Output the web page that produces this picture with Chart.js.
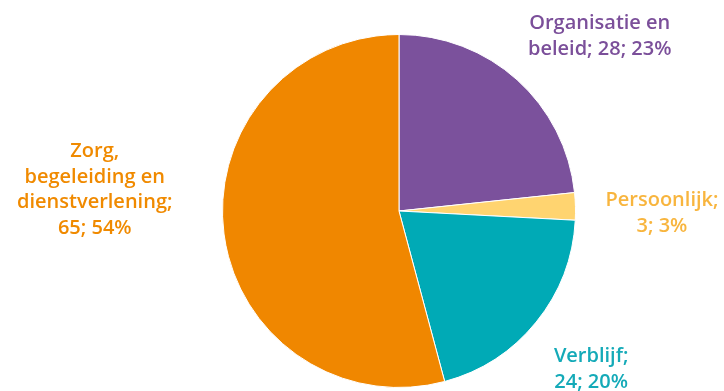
<!DOCTYPE html>
<html>
<head>
<meta charset="utf-8">
<script src="https://cdn.jsdelivr.net/npm/chart.js@4"></script>
<style>
  html, body { margin: 0; padding: 0; background: #fff; }
  #wrap { width: 724px; height: 391px; }
</style>
</head>
<body>
<div id="wrap"><canvas id="pie" width="724" height="391"></canvas></div>
<script>
// chart data
const categories = ['Organisatie en beleid', 'Persoonlijk', 'Verblijf', 'Zorg, begeleiding en dienstverlening'];
const counts = [28, 3, 24, 65];
const percents = [23, 3, 20, 54];
const sliceColors = ['#7B519C', '#FFD470', '#00AAB6', '#F08700'];
const textColors = ['#7B4F9A', '#F8B53E', '#14AAB8', '#F08A00'];
// label lines per slice (how the text wraps)
const labelLines = [
    ['Organisatie en', 'beleid; 28; 23%'],
    ['Persoonlijk;', '3; 3%'],
    ['Verblijf;', '24; 20%'],
    ['Zorg,', 'begeleiding en', 'dienstverlening;', '65; 54%']
];
// distance of each label from the pie centre, and its angle (degrees, clockwise from top)
const labelDist = [266, 263, 249, 305];
const labelAngle = [49, 90.5, 129.5, 274];

// draw the outside labels
const outsideLabels = {
    id: 'outsideLabels',
    afterDraw(chart) {
        const ctx = chart.ctx;
        const arc = chart.getDatasetMeta(0).data[0];
        ctx.save();
        ctx.font = '600 20px "Open Sans"';
        ctx.textAlign = 'center';
        ctx.textBaseline = 'middle';
        labelLines.forEach((lines, i) => {
            const a = (labelAngle[i] - 90) * Math.PI / 180;
            const cx = arc.x + Math.cos(a) * labelDist[i];
            const cy = arc.y + Math.sin(a) * labelDist[i];
            const lh = 25.5;
            const top = cy - (lines.length - 1) * lh / 2;
            ctx.fillStyle = textColors[i];
            lines.forEach((t, j) => ctx.fillText(t, cx, top + j * lh));
        });
        ctx.restore();
    }
};

new Chart(document.getElementById('pie'), {
    type: 'pie',
    data: {
        labels: categories,
        datasets: [{
            data: counts,
            backgroundColor: sliceColors,
            borderColor: '#ffffff',
            borderWidth: 1
        }]
    },
    options: {
        responsive: false,
        animation: false,
        layout: { padding: { left: 222, right: 148, top: 34, bottom: 3 } },
        plugins: {
            legend: { display: false },
            tooltip: { enabled: false }
        }
    },
    plugins: [outsideLabels]
});
</script>
</body>
</html>
